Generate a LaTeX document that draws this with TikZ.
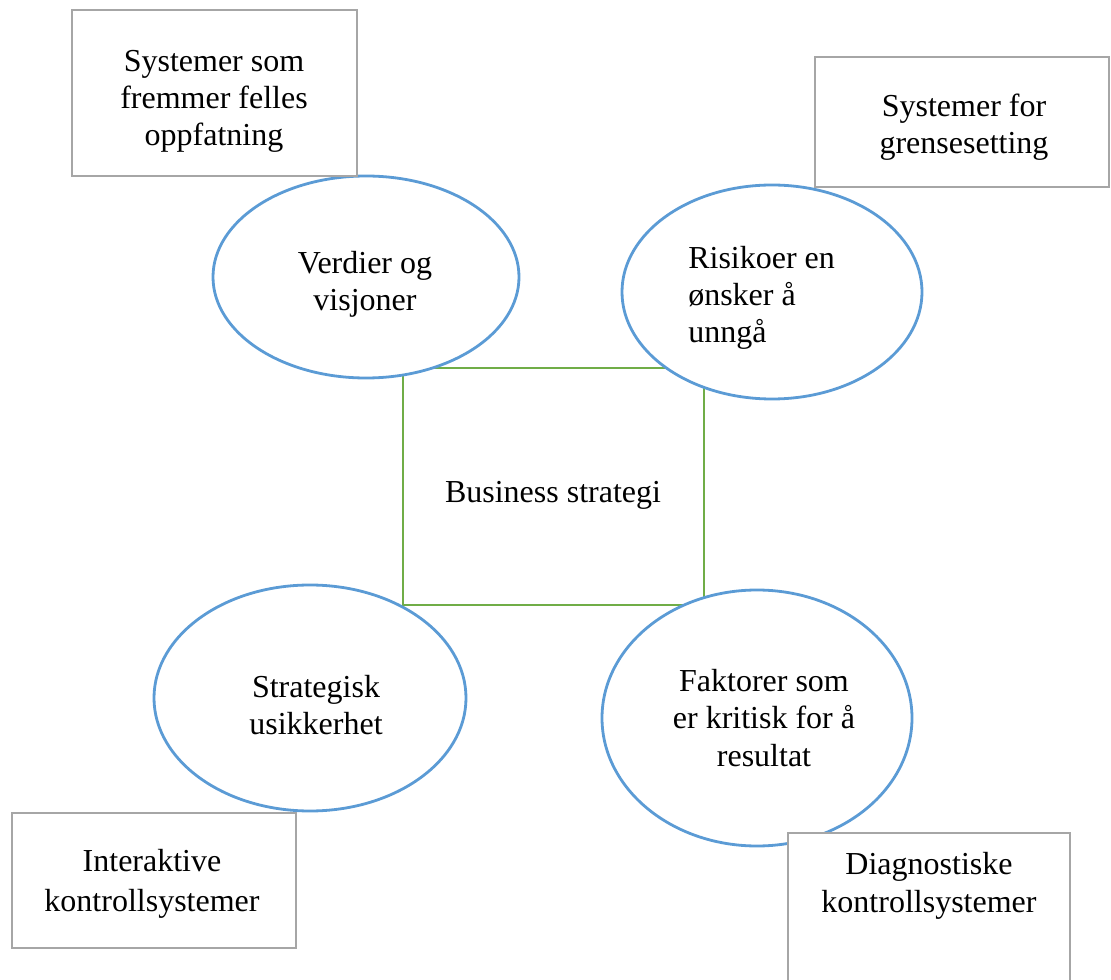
\documentclass[tikz,border=0pt]{standalone}
\usepackage{fontspec}
\setmainfont{Liberation Serif}
\usetikzlibrary{shapes.geometric}
\definecolor{boxgray}{RGB}{166,166,166}
\definecolor{ellblue}{RGB}{91,155,213}
\definecolor{stratgreen}{RGB}{112,173,71}
\begin{document}
\begin{tikzpicture}[x=0.75pt,y=-0.75pt,
  sysbox/.style={draw=boxgray,line width=2.1pt,fill=white,rectangle,inner sep=0pt},
  oval/.style={draw=ellblue,line width=2.1pt,fill=white,ellipse,inner sep=0pt},
  corebox/.style={draw=stratgreen,line width=2.1pt,rectangle,inner sep=0pt},
  lbl/.style={font=\fontsize{24}{28}\selectfont,align=center,inner sep=0pt},
]
\useasboundingbox (0,0) rectangle (1111,980);
% central strategy box
\node[corebox,minimum width=225.75pt,minimum height=177.75pt] (core) at (553.5,486.5) {};
\node[lbl,anchor=base] (tcore) at (553,503) {Business strategi};
% ellipses
\node[oval,minimum width=229.5pt,minimum height=151.5pt] (verdier) at (366,277) {};
\node[oval,minimum width=225pt,minimum height=160.5pt] (risiko) at (772,292) {};
\node[oval,minimum width=234pt,minimum height=169.5pt] (strategisk) at (310,698) {};
\node[oval,minimum width=232.5pt,minimum height=192pt] (faktorer) at (757,718) {};
\node[lbl] (tverdier) at (365,284) {Verdier og\\visjoner};
\node[lbl,align=left,anchor=west] (trisiko) at (688,298) {Risikoer en\\ønsker å\\unngå};
\node[lbl] (tstrategisk) at (316,705) {Strategisk\\usikkerhet};
\node[lbl] (tfaktorer) at (764,718) {Faktorer som\\er kritisk for å\\resultat};
% control system boxes
\node[sysbox,minimum width=213.75pt,minimum height=124.5pt] (felles) at (214.5,93) {};
\node[sysbox,minimum width=220.5pt,minimum height=97.5pt] (grense) at (962,122) {};
\node[sysbox,minimum width=213pt,minimum height=101.25pt] (interaktiv) at (154,880.5) {};
\node[sysbox,minimum width=211.5pt,minimum height=114pt] (diagnostisk) at (929,909) {};
\node[lbl] (tfelles) at (214,101.5) {Systemer som\\fremmer felles\\oppfatning};
\node[lbl] (tgrense) at (964,127) {Systemer for\\grensesetting};
\node[lbl,font=\fontsize{24}{30}\selectfont] (tinteraktiv) at (152,884) {Interaktive\\kontrollsystemer};
\node[lbl] (tdiagnostisk) at (929,886) {Diagnostiske\\kontrollsystemer};
\end{tikzpicture}
\end{document}
